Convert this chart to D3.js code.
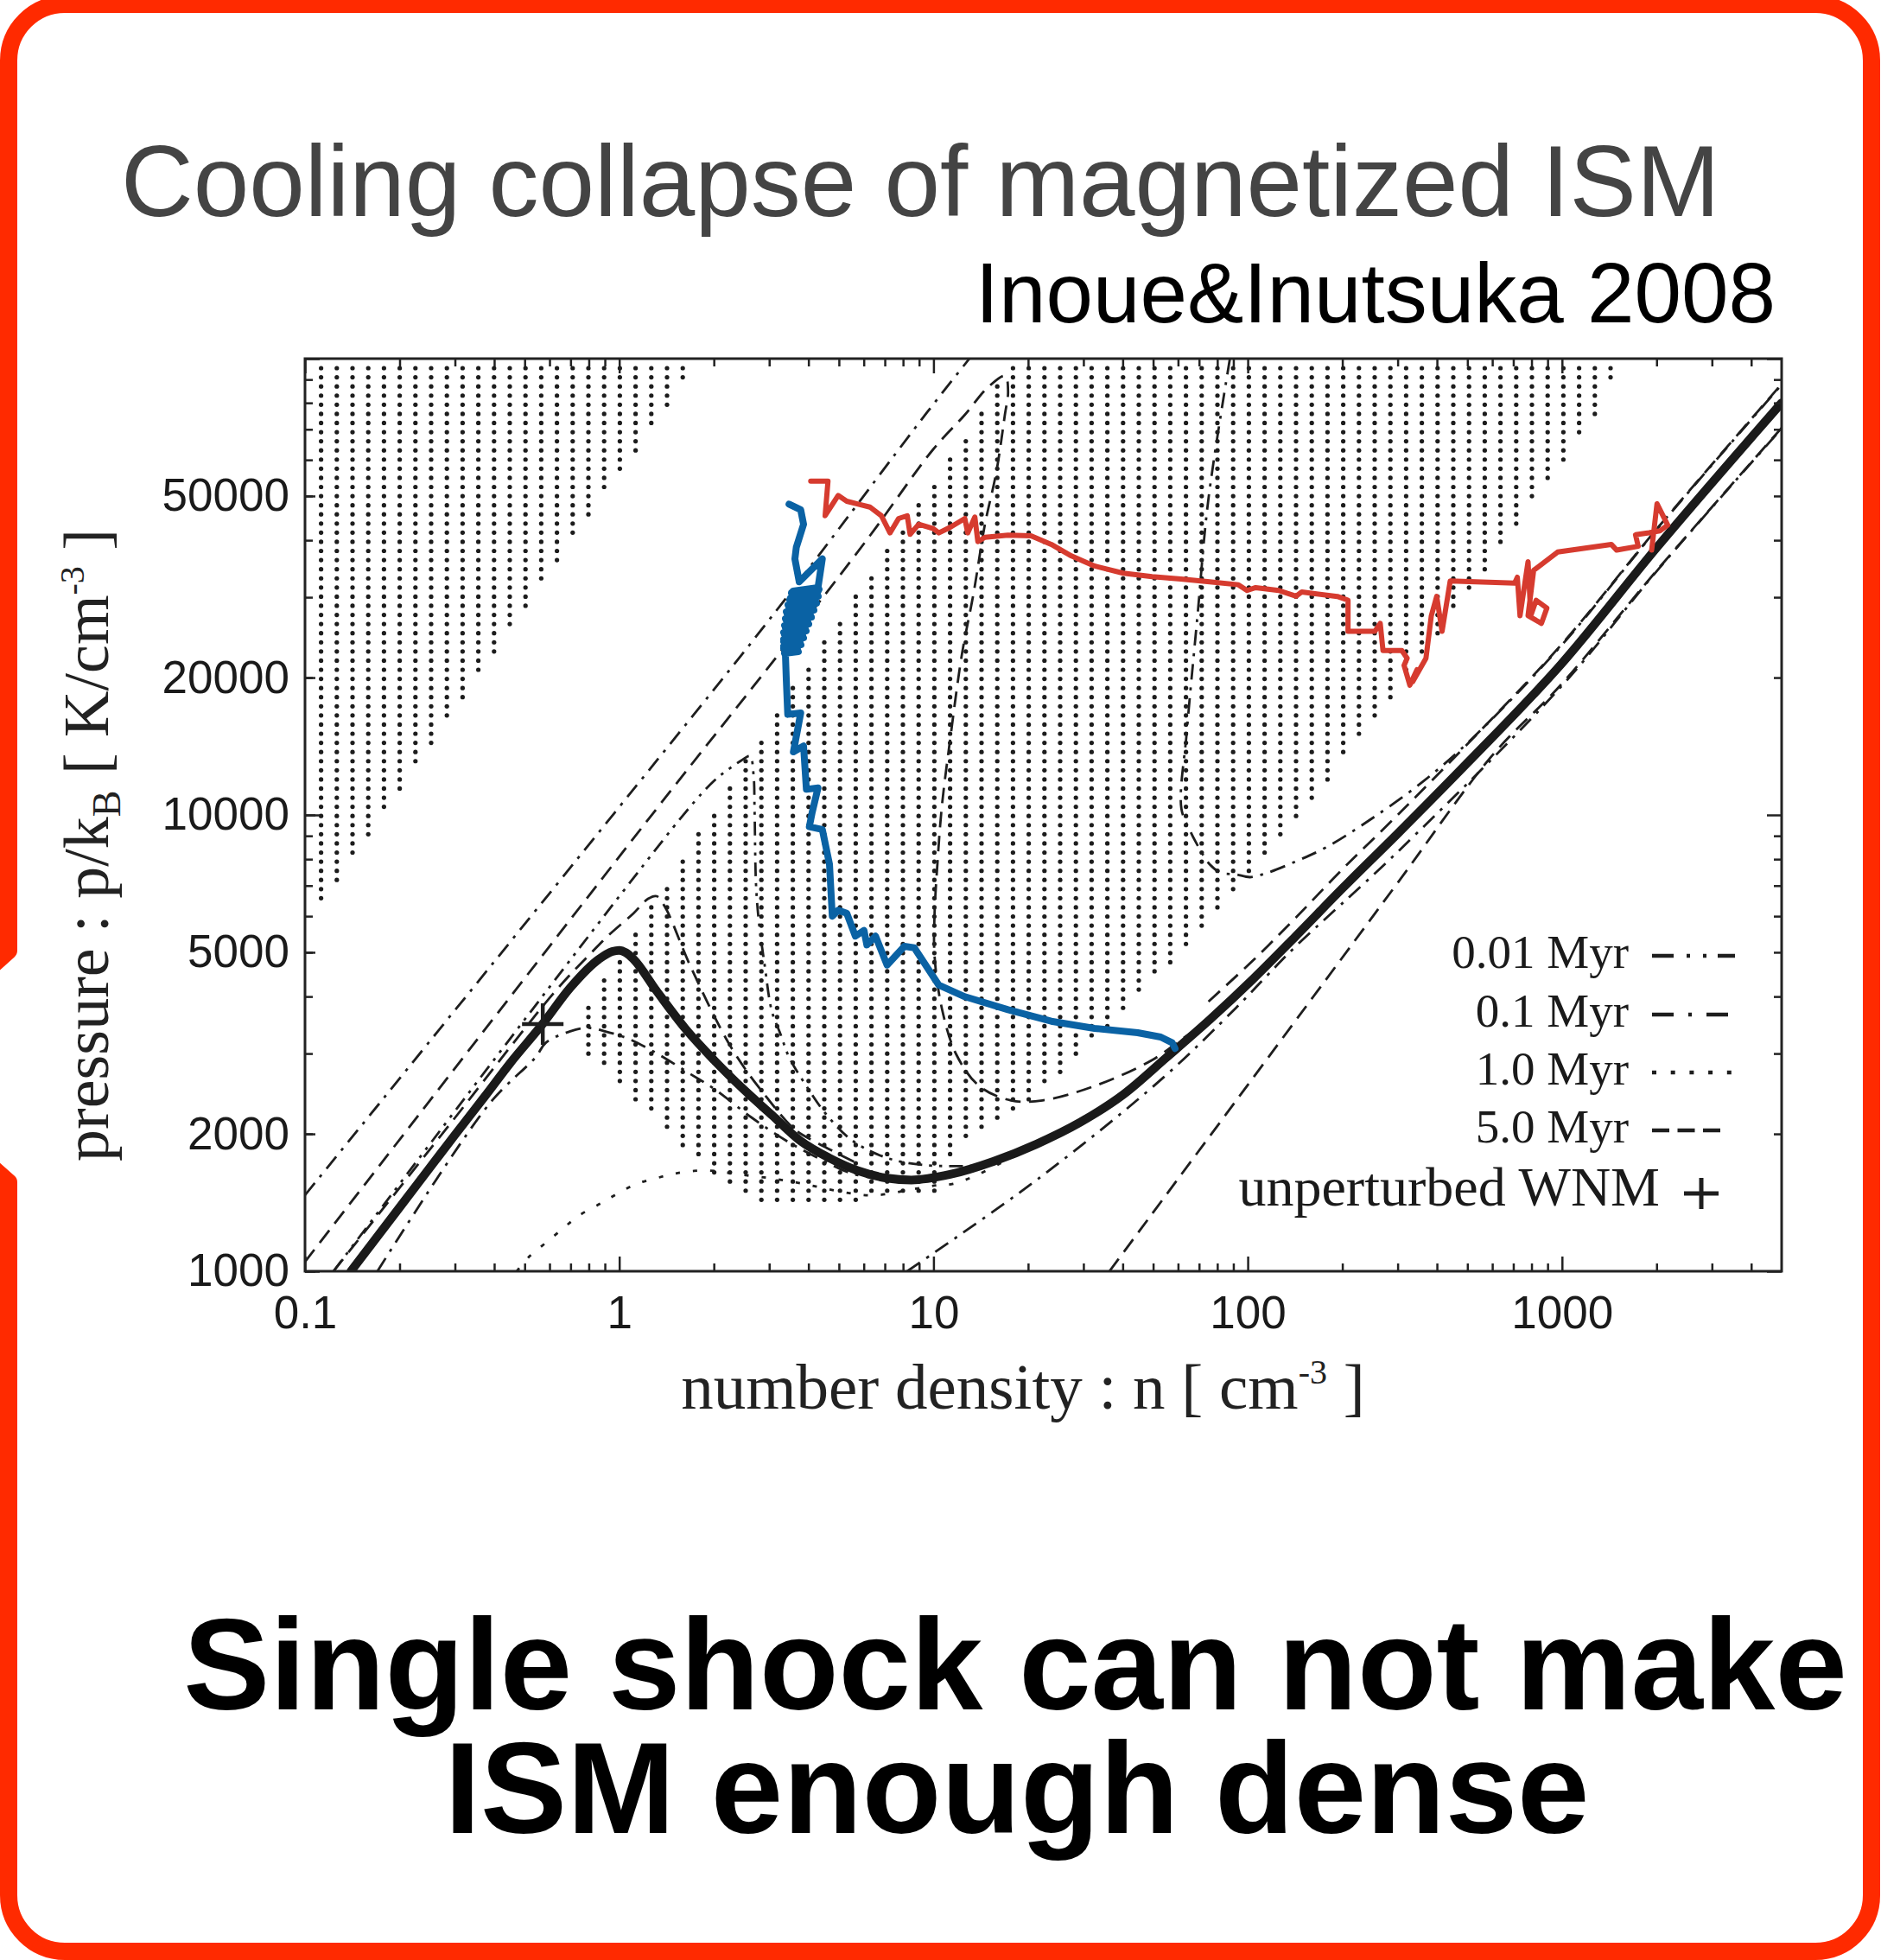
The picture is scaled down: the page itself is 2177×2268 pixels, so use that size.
<!DOCTYPE html>
<html>
<head>
<meta charset="utf-8">
<title>Cooling collapse of magnetized ISM</title>
<script src="https://cdn.jsdelivr.net/npm/d3@7"></script>
<style>
  html, body { margin: 0; padding: 0; background: #ffffff; }
  svg { display: block; }
</style>
</head>
<body>
<svg id="chart" width="2177" height="2268"></svg>
<script>
// ---------- tick values ----------
const xMajorTicks = [0.1, 1, 10, 100, 1000];
const xMajorLabels = ["0.1", "1", "10", "100", "1000"];
const xMinorTicks = [0.2, 0.3, 0.4, 0.5, 0.6, 0.7, 0.8, 0.9, 2, 3, 4, 5, 6, 7, 8, 9,
  20, 30, 40, 50, 60, 70, 80, 90, 200, 300, 400, 500, 600, 700, 800, 900, 2000, 3000, 4000];
const yDecadeTicks = [1000, 10000, 100000];
const yLabelTicks = [1000, 2000, 5000, 10000, 20000, 50000];
const yLabelText = ["1000", "2000", "5000", "10000", "20000", "50000"];
const yMinorTicks = [2000, 3000, 4000, 5000, 6000, 7000, 8000, 9000,
  20000, 30000, 40000, 50000, 60000, 70000, 80000, 90000];

// ---------- thermal equilibrium curve (n [cm^-3], p/kB [K cm^-3]) ----------
const equilibrium = [[0.14,1000],[0.2,1380],[0.3,1990],[0.374,2420],[0.45,2860],[0.571,3485],
  [0.698,4180],[0.862,4830],[0.95,5020],[1.0,5050],[1.05,4990],[1.11,4830],[1.316,4110],
  [1.624,3400],[2.005,2900],[2.477,2510],[3.06,2200],[3.776,1930],[4.67,1770],[5.76,1660],
  [7.11,1600],[8.5,1585],[11.3,1630],[15.5,1740],[21.3,1900],[29.3,2120],[40.2,2440],
  [55.1,2940],[75.7,3560],[104,4370],[142,5420],[200,6900],[300,9100],[500,13000],
  [1000,21500],[2000,38500],[5000,80000]];

// unperturbed warm neutral medium
const wnm = [0.571, 3480];

// ---------- phase-space snapshots ----------
const snap001 = [
  [[0.1232,1000],[1.624,10130],[2.007,11890],[2.229,12600],[2.446,13160],[2.606,13450],
   [2.673,12330],[2.696,10130],[2.724,7046],[2.782,5833],[2.902,4688],[3.059,3716],[3.26,3308],
   [3.471,2945],[3.94,2546],[4.57,2202],[5.525,1932],[7.117,1771],[9.363,1708],[13.69,1702]]
];
const snap01 = [
  [[0.1,1468],[0.9688,10130],[3.059,27230],[9.561,76400],[13.01,100000]],
  [[87.7,99750],[74.9,49000],[69.2,27330],[64.0,15240],[61.5,10320],[65.3,9287],[68.1,8762],
   [75.6,7798],[82.3,7466],[91.5,7412],[101.7,7306],[115.4,7466],[142.5,7914],[177.8,8495],
   [244,9741],[361,11830],[515,14650],[1000,23600],[2000,42200],[5000,87700]],
  [[0.17,1000],[0.387,2333],[0.5421,2945],[0.5838,3167],[0.6983,3357],[0.7926,3416],
   [0.8997,3357],[1.065,3236],[1.235,3076],[1.431,2901],[1.694,2699],[2.007,2509],[2.64,2171],
   [3.401,1932],[4.29,1771],[5.525,1635],[7.7,1580]],
  [[8.249,1000],[21.74,1602],[53.97,2660],[91.5,3770],[115,4440],[142,5150],[300,8300],
   [1000,19200],[2000,34200],[5000,70300]]
];
const snap10 = [
  [[0.4717,1000],[0.5196,1080],[0.5898,1161],[0.6695,1249],[0.744,1324],[0.881,1413],[1.0,1487],
   [1.135,1554],[1.315,1600],[1.493,1635],[1.73,1659],[2.007,1659],[2.326,1635],[2.996,1600],
   [3.859,1554],[4.972,1498],[6.403,1466],[8.424,1509],[10.17,1542],[11.54,1554],[13.69,1623],
   [16.56,1732],[18.79,1810]]
];
const snap50 = [
  [[0.1,1049],[1.288,10130],[3.33,23200],[6.273,40900],[9.975,63260],[12.58,75320],[14.89,86480],
   [16.9,91650],[17.27,84720],[16.87,75320],[15.84,56330],[14.58,43350],[13.41,30580],[12.32,22530],
   [11.32,14790],[10.63,10430],[10.29,7798],[10.08,6090],[10.08,4898],[10.63,3770],[11.81,2988],
   [13.98,2546],[17.63,2368],[22.24,2368],[32.53,2546],[49.57,2901],[61.25,3214],[75.64,3557]],
  [[0.1232,1000],[0.2877,2091],[0.627,4114],[0.827,5042],[0.9187,5424],[1.111,6090],[1.235,6550],
   [1.315,6637],[1.401,6270],[1.694,4622],[2.296,3054],[2.996,2371],[3.622,2045],[4.29,1907],
   [5.641,1732]],
  [[36.3,1000],[161.7,3997],[300,7100],[600,13500],[1000,19400],[2000,34300],[5000,70500]],
  [[75,3900],[104,4800],[142,5950],[200,7600],[300,10000],[500,14300],[1000,23700],
   [2000,42300],[5000,88000]]
];

// ---------- tracked gas elements ----------
const trackBlue = [[3.47,48000],[3.78,46630],[3.86,43350],[3.66,38600],[3.622,36410],
  [3.739,32420],[4.428,36410],[4.29,31490],
  [3.577,30940],[4.27,30410],[3.509,29880],[4.217,29370],[3.443,28860],[4.137,28360],[3.401,27870],
  [4.059,27380],[3.379,26920],[3.983,26450],[3.357,25990],[3.908,25540],[3.336,25090],[3.835,24660],
  [3.336,24240],[3.763,23820],[3.336,23410],[3.692,22990],[3.357,22610],
  [3.715,22800],[3.336,23210],[3.787,23610],[3.336,24030],[3.859,24450],[3.357,24880],[3.933,25320],
  [3.379,25760],[4.009,26220],[3.401,26680],[4.086,27140],[3.422,27620],[4.163,28110],[3.465,28600],
  [4.243,29110],[3.487,29620],[4.297,30150],[3.532,30670],[4.325,31210],[3.379,22510],
  [3.401,19770],[3.437,16610],[3.78,16730],[3.583,13750],[3.859,14160],[3.94,11380],
  [4.29,11460],[4.111,10130],[4.026,9420],[4.428,9290],[4.667,7800],[4.764,6000],[4.972,6180],
  [5.296,6090],[5.641,5425],[6.01,5582],[6.137,5191],[6.54,5425],[7.117,4688],[8.078,5153],
  [8.69,5115],[10.4,4236],[12.58,3997],[17.27,3743],[23.7,3531],[32.53,3406],[44.64,3332],
  [52.84,3261],[57.5,3167],[58.7,3077]];
const trackRed = [[4.067,53900],[4.616,53900],[4.52,45270],[4.972,50130],[5.296,48700],[5.762,48000],
  [6.273,47290],[6.825,45270],[7.27,41500],[7.744,44630],[8.251,45270],[8.425,41210],[8.974,43350],
  [9.975,42420],[10.4,41500],[11.32,42730],[12.58,44630],[12.85,41500],[13.54,44960],[13.84,39720],
  [14.58,40590],[17.27,41020],[20.43,40900],[23.7,39160],[27.47,36950],[32.53,35120],[40.16,33870],
  [49.6,33290],[61.25,32890],[75.64,32420],[93.4,31950],[99.5,31040],[106,31490],[125.5,31040],
  [142.5,30150],[148.6,30810],[161.7,30580],[192.8,30120],[208.5,29550],[208.5,25270],[254,25270],
  [264,26290],[269.4,22930],[309.3,22930],[321.6,22050],[314.4,21270],[328,19250],[345.6,20810],
  [335,19600],[369.1,22050],[383.9,27330],[399.3,30120],[415.3,25270],[440.9,32560],[707,32230],
  [720.9,33190],[735.3,27330],[779.8,35890],[795.3,27330],[827.6,29550],[895.1,28400],[860.2,26290],
  [779.8,27330],[812.6,34360],[968.3,37680],[1435,39170],[1493,38050],[1748,38800],[1714,41110],
  [1892,41530],[2048,41930],[2170,43170],[2006,48070],[1929,38050]];

// ---------- stippled regions (outline in n, p) ----------
const stippleHot = [[0.1,100000],[1.8,100000],[0.1,5710]];
const stippleMid = [[18.31,100000],[1560,100000],[1306,76960],[580.9,34970],[204.4,13340],
  [112.7,8039],[75.6,5799],[40.16,3684],[21.33,2424],[10.76,1755],[10.49,1475],[5.898,1475],
  [5.898,1405],[2.996,1405],[1.998,1616],[1.196,2270],[0.763,3081],[0.763,3684],[3.192,16950]];

// ---------- legend ----------
const legendLabels = ["0.01 Myr", "0.1 Myr", "1.0 Myr", "5.0 Myr"];
const legendKeys = ["0.01", "0.1", "1.0", "5.0"];

// ================= drawing =================
const svg = d3.select("#chart");
const plot = { left: 353, right: 2062, top: 415, bottom: 1471 };
const x = d3.scaleLog().domain([0.1, 5000]).range([plot.left, plot.right]);
const y = d3.scaleLog().domain([1000, 100000]).range([plot.bottom, plot.top]);

const ink = "#1e1e1e";
const dashFor = { "0.01": "16 8 3.5 8 3.5 8", "0.1": "18 9 3.5 9", "1.0": "5 15", "5.0": "18 10" };
const legendDash = { "0.01": "25 15 4 15 4 13", "0.1": "25 17 4 17", "1.0": "5 16.7", "5.0": "20 9.5" };

// speech-bubble border
svg.append("path")
  .attr("d", "M75,5 L2101,5 A65,65 0 0 1 2166,70 L2166,2193 A65,65 0 0 1 2101,2258 L75,2258 " +
             "A65,65 0 0 1 10,2193 L10,1368 L-140,1235 L10,1100 L10,70 A65,65 0 0 1 75,5 Z")
  .attr("fill", "none").attr("stroke", "#ff2a00").attr("stroke-width", 20)
  .attr("stroke-linejoin", "round");

// headings
const sans = "'Liberation Sans', Arial, Helvetica, sans-serif";
svg.append("text").attr("x", 140).attr("y", 250)
  .attr("font-family", sans).attr("font-size", 116).attr("fill", "#444444")
  .text("Cooling collapse of magnetized ISM");
svg.append("text").attr("x", 2055).attr("y", 373).attr("text-anchor", "end")
  .attr("font-family", sans).attr("font-size", 98).attr("fill", "#000")
  .text("Inoue&Inutsuka 2008");

svg.append("text").attr("text-anchor", "middle").attr("x", 1175).attr("y", 1978)
  .attr("font-family", sans).attr("font-weight", "bold").attr("font-size", 150).attr("fill", "#000")
  .text("Single shock can not make");
svg.append("text").attr("text-anchor", "middle").attr("x", 1177).attr("y", 2121)
  .attr("font-family", sans).attr("font-weight", "bold").attr("font-size", 150).attr("fill", "#000")
  .text("ISM enough dense");

// plot clip
svg.append("clipPath").attr("id", "plotClip").append("rect")
  .attr("x", plot.left).attr("y", plot.top)
  .attr("width", plot.right - plot.left).attr("height", plot.bottom - plot.top);
const inner = svg.append("g").attr("clip-path", "url(#plotClip)");

// stipple: dot grid kept where centre lies inside a region outline
const dotsG = inner.append("g").attr("fill", "#1c1c1c");
const regions = [stippleHot, stippleMid].map(r => r.map(d => [x(d[0]), y(d[1])]));
const dx = 18.2, dy = 10.575;
for (let cx = 371.6; cx < plot.right; cx += dx) {
  for (let cy = 426; cy < plot.bottom; cy += dy) {
    if (regions.some(poly => d3.polygonContains(poly, [cx, cy]))) {
      dotsG.append("circle").attr("cx", cx).attr("cy", cy).attr("r", 2.6);
    }
  }
}

const line = d3.line().x(d => x(d[0])).y(d => y(d[1]));
const smooth = d3.line().x(d => x(d[0])).y(d => y(d[1])).curve(d3.curveCatmullRom.alpha(0.5));

function drawSnapshot(segments, key) {
  segments.forEach(seg => {
    inner.append("path").attr("d", smooth(seg)).attr("fill", "none")
      .attr("stroke", ink).attr("stroke-width", 2.8)
      .attr("stroke-dasharray", dashFor[key]);
  });
}
drawSnapshot(snap001, "0.01");
drawSnapshot(snap01, "0.1");
drawSnapshot(snap10, "1.0");
drawSnapshot(snap50, "5.0");

// equilibrium curve
inner.append("path")
  .attr("d", d3.line().x(d => x(d[0])).y(d => y(d[1])).curve(d3.curveMonotoneX)(equilibrium))
  .attr("fill", "none").attr("stroke", "#1a1a1a").attr("stroke-width", 10)
  .attr("stroke-linejoin", "round").attr("stroke-linecap", "round");

// tracks
inner.append("path").attr("d", line(trackBlue)).attr("fill", "none")
  .attr("stroke", "#0a62a4").attr("stroke-width", 8)
  .attr("stroke-linejoin", "round").attr("stroke-linecap", "round");
inner.append("path").attr("d", line(trackRed)).attr("fill", "none")
  .attr("stroke", "#d63b2f").attr("stroke-width", 6)
  .attr("stroke-linejoin", "round").attr("stroke-linecap", "round");

// unperturbed WNM marker
const wx = x(wnm[0]), wy = y(wnm[1]);
inner.append("path").attr("d", `M${wx - 24},${wy} H${wx + 24} M${wx},${wy - 24} V${wy + 24}`)
  .attr("stroke", ink).attr("stroke-width", 4.5);

// frame
svg.append("rect").attr("x", plot.left).attr("y", plot.top)
  .attr("width", plot.right - plot.left).attr("height", plot.bottom - plot.top)
  .attr("fill", "none").attr("stroke", "#222").attr("stroke-width", 3);

// axes
function styleAxis(g) {
  g.select(".domain").remove();
  g.selectAll(".tick line").attr("stroke", "#222").attr("stroke-width", 2.5);
  g.selectAll(".tick text").attr("font-family", sans).attr("font-size", 53).attr("fill", "#1a1a1a");
}
svg.append("g").attr("transform", `translate(0,${plot.bottom})`)
  .call(d3.axisBottom(x).tickValues(xMajorTicks).tickFormat((d, i) => xMajorLabels[i])
    .tickSizeInner(-17).tickSizeOuter(0).tickPadding(28)).call(styleAxis);
svg.append("g").attr("transform", `translate(0,${plot.bottom})`)
  .call(d3.axisBottom(x).tickValues(xMinorTicks).tickFormat("").tickSizeInner(-9).tickSizeOuter(0))
  .call(styleAxis);
svg.append("g").attr("transform", `translate(0,${plot.top})`)
  .call(d3.axisTop(x).tickValues(xMajorTicks).tickFormat("").tickSizeInner(-17).tickSizeOuter(0))
  .call(styleAxis);
svg.append("g").attr("transform", `translate(0,${plot.top})`)
  .call(d3.axisTop(x).tickValues(xMinorTicks).tickFormat("").tickSizeInner(-9).tickSizeOuter(0))
  .call(styleAxis);
svg.append("g").attr("transform", `translate(${plot.left},0)`)
  .call(d3.axisLeft(y).tickValues(yLabelTicks).tickFormat((d, i) => yLabelText[i])
    .tickSizeInner(-12).tickSizeOuter(0).tickPadding(18)).call(styleAxis);
svg.append("g").attr("transform", `translate(${plot.left},0)`)
  .call(d3.axisLeft(y).tickValues(yDecadeTicks).tickFormat("").tickSizeInner(-17).tickSizeOuter(0))
  .call(styleAxis);
svg.append("g").attr("transform", `translate(${plot.left},0)`)
  .call(d3.axisLeft(y).tickValues(yMinorTicks).tickFormat("").tickSizeInner(-9).tickSizeOuter(0))
  .call(styleAxis);
svg.append("g").attr("transform", `translate(${plot.right},0)`)
  .call(d3.axisRight(y).tickValues(yDecadeTicks).tickFormat("").tickSizeInner(-17).tickSizeOuter(0))
  .call(styleAxis);
svg.append("g").attr("transform", `translate(${plot.right},0)`)
  .call(d3.axisRight(y).tickValues(yMinorTicks).tickFormat("").tickSizeInner(-9).tickSizeOuter(0))
  .call(styleAxis);

// axis titles
const serif = "'Liberation Serif', 'Times New Roman', Times, serif";
const xt = svg.append("text").attr("x", 1184).attr("y", 1630).attr("text-anchor", "middle")
  .attr("font-family", serif).attr("font-size", 75).attr("fill", "#222");
xt.append("tspan").text("number density : n [ cm");
xt.append("tspan").attr("dy", -29).attr("font-size", 40).text("-3");
xt.append("tspan").attr("dy", 29).text(" ]");

const yt = svg.append("text").attr("transform", "translate(125,978) rotate(-90)")
  .attr("text-anchor", "middle").attr("font-family", serif).attr("font-size", 74).attr("fill", "#222");
yt.append("tspan").text("pressure : p/k");
yt.append("tspan").attr("dy", 14).attr("font-size", 46).text("B");
yt.append("tspan").attr("dy", -14).text(" [ K/cm");
yt.append("tspan").attr("dy", -28).attr("font-size", 40).text("-3");
yt.append("tspan").attr("dy", 28).text(" ]");

// legend
const legBase = [1120, 1188, 1255, 1322];
const legEnd = [2008, 2008, 2005, 1996];
legendKeys.forEach((k, i) => {
  svg.append("text").attr("x", 1885).attr("y", legBase[i]).attr("text-anchor", "end")
    .attr("font-family", serif).attr("font-size", 55).attr("fill", "#1a1a1a").text(legendLabels[i]);
  svg.append("line").attr("x1", 1912).attr("x2", legEnd[i])
    .attr("y1", legBase[i] - 14).attr("y2", legBase[i] - 14)
    .attr("stroke", ink).attr("stroke-width", 4.5).attr("stroke-dasharray", legendDash[k]);
});
svg.append("text").attr("x", 1921).attr("y", 1395).attr("text-anchor", "end")
  .attr("font-family", serif).attr("font-size", 64).attr("fill", "#1a1a1a").text("unperturbed WNM");
svg.append("path").attr("d", "M1949,1381 H1989 M1969,1363 V1399")
  .attr("stroke", ink).attr("stroke-width", 5);
</script>
</body>
</html>
